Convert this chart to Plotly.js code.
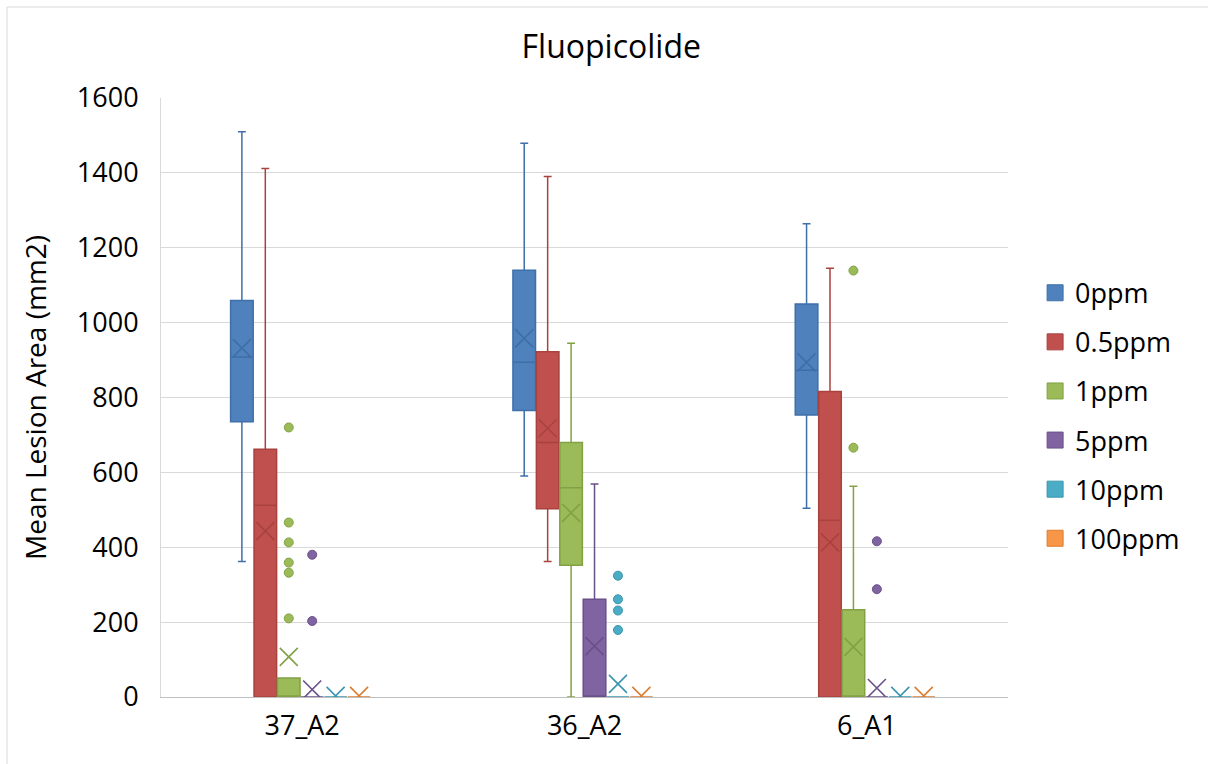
<!DOCTYPE html>
<html>
<head>
<meta charset="utf-8">
<script src="https://cdn.plot.ly/plotly-3.0.1.min.js"></script>
<style>
  html, body { margin: 0; padding: 0; background: #ffffff; }
  #chart { width: 1208px; height: 764px; }
</style>
</head>
<body>
<div id="chart"></div>
<script>
// ---- Data ----
const categories = ['37_A2', '36_A2', '6_A1'];
const seriesNames = ['0ppm', '0.5ppm', '1ppm', '5ppm', '10ppm', '100ppm'];

// per series: values for [37_A2, 36_A2, 6_A1]
const lowerWhisker = [
  [362, 590, 504],   // 0ppm
  [0, 362, 0],       // 0.5ppm
  [0, 0, 0],         // 1ppm
  [0, 0, 0],         // 5ppm
  [0, 0, 0],         // 10ppm
  [0, 0, 0]          // 100ppm
];
const q1Values = [
  [735, 765, 753],
  [0, 503, 0],
  [0, 352, 0],
  [0, 0, 0],
  [0, 0, 0],
  [0, 0, 0]
];
const medianValues = [
  [908, 894, 873],
  [512, 680, 472],
  [0, 559, 0],
  [0, 0, 0],
  [0, 0, 0],
  [0, 0, 0]
];
const q3Values = [
  [1059, 1140, 1050],
  [662, 922, 816],
  [51, 680, 233],
  [0, 261, 0],
  [0, 0, 0],
  [0, 0, 0]
];
const upperWhisker = [
  [1510, 1479, 1264],
  [1412, 1390, 1145],
  [51, 945, 563],
  [0, 569, 0],
  [0, 0, 0],
  [0, 0, 0]
];
const meanValues = [
  [932, 958, 894],
  [443, 718, 413],
  [107, 492, 134],
  [20, 136, 24],
  [3, 35, 3],
  [3, 3, 3]
];
const outlierValues = [
  [[], [], []],
  [[], [], []],
  [[720, 466, 413, 359, 332, 210], [], [1139, 666]],
  [[380, 203], [], [416, 288]],
  [[], [324, 261, 231, 179], []],
  [[], [], []]
];

const fillColors = ['#4F81BD', '#C0504D', '#9BBB59', '#8064A2', '#4BACC6', '#F79646'];
const lineColors = ['#3F6FA8', '#A9423F', '#82A145', '#6A5089', '#3995AE', '#DB7C2F'];

// ---- Geometry helpers (positions computed, not typed) ----
const nSeries = seriesNames.length;
const step = 0.0830;        // spacing between series inside a category
const boxWidth = 0.080;
function pos(catIndex, s) { return catIndex + (s - (nSeries - 1) / 2) * step - 0.006; }

const traces = [];
const font = 'Open Sans, Liberation Sans, sans-serif';

for (let s = 0; s < nSeries; s++) {
  const xs = categories.map((c, i) => pos(i, s));
  // box
  traces.push({
    type: 'box',
    name: seriesNames[s],
    x: xs,
    q1: q1Values[s],
    median: medianValues[s],
    q3: q3Values[s],
    lowerfence: lowerWhisker[s],
    upperfence: upperWhisker[s],
    width: boxWidth,
    whiskerwidth: 0.35,
    fillcolor: fillColors[s],
    line: { color: lineColors[s], width: 1.5 },
    boxpoints: false,
    showlegend: false,
    hoverinfo: 'skip'
  });
  // means (X markers)
  traces.push({
    type: 'scatter',
    mode: 'markers',
    x: xs,
    y: meanValues[s],
    marker: { symbol: 'x-thin-open', size: 18, color: lineColors[s], line: { color: lineColors[s], width: 1.6 } },
    showlegend: false,
    hoverinfo: 'skip'
  });
  // outliers
  const ox = [], oy = [];
  categories.forEach((c, i) => {
    outlierValues[s][i].forEach(v => { ox.push(pos(i, s)); oy.push(v); });
  });
  if (ox.length) {
    traces.push({
      type: 'scatter',
      mode: 'markers',
      x: ox,
      y: oy,
      marker: { symbol: 'circle', size: 9, color: fillColors[s], line: { color: lineColors[s], width: 1 } },
      showlegend: false,
      hoverinfo: 'skip'
    });
  }
}
// legend entries
for (let s = 0; s < nSeries; s++) {
  traces.push({
    type: 'scatter',
    mode: 'markers',
    name: seriesNames[s],
    x: [null],
    y: [null],
    legendgroup: 'g' + s,
    marker: { symbol: 'square', size: 20, color: fillColors[s], line: { color: lineColors[s], width: 1 } },
    showlegend: true
  });
}

const layout = {
  width: 1208,
  height: 764,
  paper_bgcolor: '#ffffff',
  plot_bgcolor: '#ffffff',
  margin: { l: 161, r: 200, t: 98, b: 67 },
  font: { family: font, size: 27, color: '#000000' },
  title: {
    text: 'Fluopicolide',
    font: { family: font, size: 32, color: '#000000' },
    xref: 'container', x: 0.506, xanchor: 'center',
    yref: 'container', y: 1 - 47 / 764, yanchor: 'middle'
  },
  xaxis: {
    range: [-0.5, 2.5],
    tickmode: 'array',
    tickvals: categories.map((c, i) => i),
    ticktext: categories,
    showgrid: false,
    zeroline: false,
    showline: true,
    linecolor: '#BFBFBF',
    linewidth: 1,
    ticks: '',
    ticklabelstandoff: 5,
    tickfont: { family: font, size: 27, color: '#000000' }
  },
  yaxis: {
    range: [0, 1600],
    dtick: 200,
    tick0: 0,
    showgrid: true,
    gridcolor: '#D9D9D9',
    gridwidth: 1,
    zeroline: false,
    showline: true,
    linecolor: '#D9D9D9',
    linewidth: 1,
    ticks: '',
    ticklabelstandoff: 16,
    tickfont: { family: font, size: 27, color: '#000000' },
    title: { text: 'Mean Lesion Area (mm2)', font: { family: font, size: 28, color: '#000000' }, standoff: 22 }
  },
  boxmode: 'overlay',
  legend: {
    x: 1.032, xanchor: 'left',
    y: 0.715, yanchor: 'top',
    font: { family: font, size: 27, color: '#000000' },
    itemsizing: 'trace',
    tracegroupgap: 11,
    bgcolor: 'rgba(0,0,0,0)'
  },
  shapes: [
    { type: 'line', xref: 'paper', yref: 'paper', x0: (7 - 161) / 847, x1: 1.3, y0: (697 - 7) / 599, y1: (697 - 7) / 599, line: { color: '#D9D9D9', width: 1 } },
    { type: 'line', xref: 'paper', yref: 'paper', x0: (7 - 161) / 847, x1: (7 - 161) / 847, y0: (697 - 7) / 599, y1: -0.2, line: { color: '#D9D9D9', width: 1 } }
  ],
  showlegend: true
};

Plotly.newPlot('chart', traces, layout, { staticPlot: true, displayModeBar: false });
</script>
</body>
</html>
